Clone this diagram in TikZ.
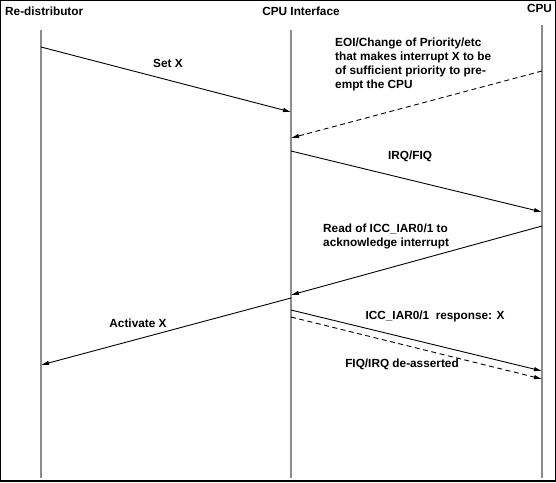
\documentclass[tikz,border=0pt]{standalone}
\usepackage{fontspec}
\setmainfont{Liberation Sans}
\usetikzlibrary{arrows.meta}
\begin{document}
\begin{tikzpicture}[x=1pt,y=-1pt,
  lifeline/.style={draw=gray!90, line width=1.3pt},
  msg/.style={line width=0.9pt, -{Latex[length=8pt,width=4.5pt]}},
  dmsg/.style={msg, dash pattern=on 5pt off 3.5pt},
  lbl/.style={font=\fontsize{11.8}{13.8}\selectfont\bfseries, inner sep=0pt},
  mlbl/.style={lbl, anchor=base west, align=left},
  hdr/.style={font=\fontsize{11.8}{13.8}\selectfont\bfseries, inner sep=0pt}]
\useasboundingbox (0,0) rectangle (556,482);
\draw[line width=1.2pt] (0.6,0.6) rectangle (555.4,481);
% headers
\node[hdr, anchor=base west] (hR) at (5,15.2) {Re-distributor};
\node[hdr, anchor=base] (hI) at (301,15.2) {CPU Interface};
\node[hdr, anchor=base] (hC) at (539.5,12.2) {CPU};
% lifelines
\coordinate (r0) at (41,30); \coordinate (r1) at (41,478);
\coordinate (i0) at (291,30); \coordinate (i1) at (291,478);
\coordinate (c0) at (542,25); \coordinate (c1) at (542,478);
\draw[lifeline] (r0) -- (r1);
\draw[lifeline] (i0) -- (i1);
\draw[lifeline] (c0) -- (c1);
% message endpoints
\coordinate (a1) at (41,47);  \coordinate (b1) at (291,112);
\coordinate (a2) at (542,71); \coordinate (b2) at (291,138);
\coordinate (a3) at (291,151); \coordinate (b3) at (542,212);
\coordinate (a4) at (542,226); \coordinate (b4) at (291,295);
\coordinate (a5) at (291,298); \coordinate (b5) at (41,365);
\coordinate (a6) at (291,310); \coordinate (b6) at (542,371);
\coordinate (a7) at (291,317); \coordinate (b7) at (542,379);
\draw[msg] (a1) -- (b1);
\draw[dmsg] (a2) -- (b2);
\draw[msg] (a3) -- (b3);
\draw[msg] (a4) -- (b4);
\draw[msg] (a5) -- (b5);
\draw[msg] (a6) -- (b6);
\draw[dmsg] (a7) -- (b7);
% labels
\node[lbl, anchor=base] (l1) at (168,67.2) {Set X};
\node[mlbl] (l2) at (335,88) {EOI/Change of Priority/etc\\that makes interrupt X to be\\of sufficient priority to pre-\\empt the CPU};
\node[lbl, anchor=base] (l3) at (410,159.2) {IRQ/FIQ};
\node[mlbl] (l4) at (323,246) {Read of ICC\_IAR0/1 to\\acknowledge interrupt};
\node[lbl, anchor=base] (l5) at (138,327.2) {Activate X};
\node[lbl, anchor=base] (l6) at (435,319.2) {ICC\_IAR0/1\ \ response: X};
\node[lbl, anchor=base] (l7) at (402,367.2) {FIQ/IRQ de-asserted};
\end{tikzpicture}
\end{document}
